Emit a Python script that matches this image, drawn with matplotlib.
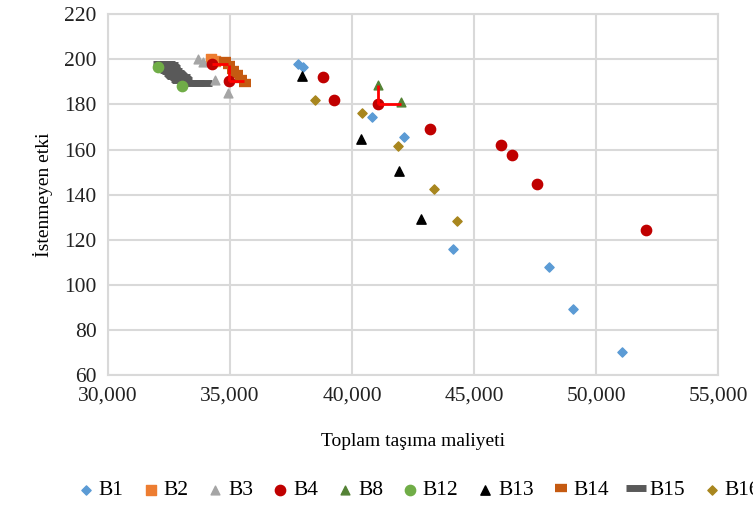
import numpy as np
import matplotlib
matplotlib.use("Agg")
from matplotlib import pyplot as plt
from matplotlib.ticker import FuncFormatter

plt.rcParams['font.family'] = ['Liberation Serif', 'DejaVu Serif']

# veri
b1_x = [37790, 37990, 40830, 42140, 44140, 48060, 49040, 51040]
b1_y = [198.0, 196.6, 174.6, 165.8, 116.0, 108.0, 89.5, 70.1]
b2_x = [34250, 34400]
b2_y = [200.0, 199.2]
b3_x = [33690, 33900, 34390, 34920]
b3_y = [200.1, 198.8, 190.9, 185.2]
b4_x = [34260, 34960, 38830, 39280, 41080, 43200, 46100, 46550, 47570, 52050]
b4_y = [198.0, 190.5, 192.2, 182.1, 180.3, 169.3, 162.2, 157.8, 144.6, 124.3]
# kirmizi cizgiler (B4 icin + yonlu hata cubuklari)
b4e_x = [34260, 34960, 41080]
b4e_y = [198.0, 190.5, 180.3]
b4e_dx = [650, 640, 940]
b4e_dy = [0.0, 7.0, 8.4]
b8_x = [41050, 42020]
b8_y = [188.7, 181.2]
b12_x = [32050, 33040]
b12_y = [196.8, 188.2]
b13_x = [37970, 40380, 41930, 42830]
b13_y = [192.7, 164.5, 150.3, 129.2]
b14_x = [34790, 34960, 35120, 35280, 35450, 35610]
b14_y = [199.3, 197.5, 195.3, 193.5, 191.4, 189.6]
b15_x = [32250, 32350, 32450, 32350, 32500, 32550, 32550, 32650, 32700,
         32750, 32800, 32850, 32950, 33000, 33050, 33550, 33850]
b15_y = [198.0, 198.0, 197.5, 197.0, 196.5, 196.0, 195.5, 195.0, 194.0,
         193.5, 193.0, 192.5, 192.0, 191.5, 191.0, 189.3, 189.3]
b16_x = [38480, 40430, 41890, 43360, 44300]
b16_y = [181.9, 176.3, 161.8, 142.4, 128.3]

fig = plt.figure(figsize=(7.53, 5.09), dpi=100)
ax = fig.add_axes([0.143, 0.263, 0.811, 0.709])

ax.scatter(b1_x, b1_y, marker='D', s=22, color='#5B9BD5', label='B1', zorder=3)
ax.scatter(b2_x, b2_y, marker='s', s=60, color='#ED7D31', label='B2', zorder=3)
ax.scatter(b3_x, b3_y, marker='^', s=40, color='#A5A5A5', label='B3', zorder=3)
ax.scatter(b4_x, b4_y, marker='o', s=55, color='#C00000', label='B4', zorder=4)
ax.errorbar(b4e_x, b4e_y, xerr=[np.zeros(3), b4e_dx], yerr=[np.zeros(3), b4e_dy],
            fmt='none', ecolor='#FF0000', elinewidth=2, capsize=0, zorder=4)
ax.scatter(b8_x, b8_y, marker='^', s=40, color='#548235', label='B8', zorder=3)
ax.scatter(b12_x, b12_y, marker='o', s=55, color='#70AD47', label='B12', zorder=3)
ax.scatter(b13_x, b13_y, marker='^', s=45, color='black', label='B13', zorder=3)
ax.plot(b14_x, b14_y, ls='none', marker='_', ms=9, mew=6, color='#C55A11', label='B14', zorder=3)
ax.plot(b15_x, b15_y, ls='none', marker='_', ms=14, mew=5, color='#595959', label='B15', zorder=2)
ax.scatter(b16_x, b16_y, marker='D', s=22, color='#A8861E', label='B16', zorder=3)

ax.set_xlim(30000, 55000)
ax.set_ylim(60, 220)
ax.set_xticks(np.arange(30000, 55001, 5000))
ax.set_yticks(np.arange(60, 221, 20))
ax.xaxis.set_major_formatter(FuncFormatter(lambda v, p: f"{int(v):,}"))
ax.grid(True, color='#D9D9D9', lw=1.5)
ax.set_axisbelow(True)
for s in ax.spines.values():
    s.set_color('#D9D9D9')
    s.set_linewidth(1.5)
ax.tick_params(length=0, labelsize=15.5, colors='#222222', pad=8)

ax.set_xlabel('Toplam taşıma maliyeti', fontsize=14, labelpad=20)
ax.set_ylabel('İstenmeyen etki', fontsize=14, labelpad=8)

fig.legend(loc='center left', bbox_to_anchor=(0.104, 0.037), ncol=10, frameon=False,
           fontsize=15.5, handlelength=0.7, handletextpad=0.25, columnspacing=0.9,
           borderaxespad=0, borderpad=0)

fig.savefig('out.png', dpi=100)
